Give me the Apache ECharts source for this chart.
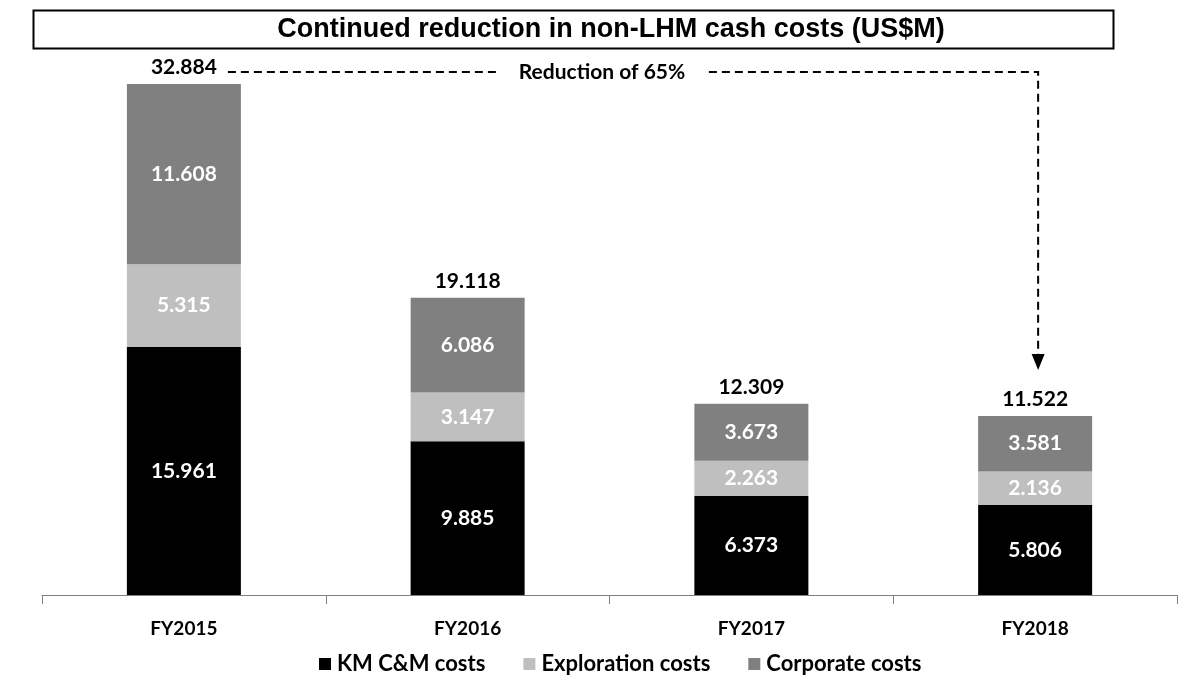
<!DOCTYPE html>
<html><head><meta charset="utf-8">
<script src="https://cdn.jsdelivr.net/npm/echarts@6/dist/echarts.min.js"></script>
<style>html,body{margin:0;padding:0;background:#fff}#c{width:1192px;height:675px}</style>
</head><body><div id="c"></div>
<script>
const categories = ['FY2015', 'FY2016', 'FY2017', 'FY2018'];
const kmCosts = [15.961, 9.885, 6.373, 5.806];
const explorationCosts = [5.315, 3.147, 2.263, 2.136];
const corporateCosts = [11.608, 6.086, 3.673, 3.581];
const totals = [32.884, 19.118, 12.309, 11.522];
const seriesNames = ['KM C&M costs', 'Exploration costs', 'Corporate costs'];
const titleText = 'Continued reduction in non-LHM cash costs (US$M)';
const annotationText = 'Reduction of 65%';

const FONT = 'Lato, "Open Sans", sans-serif';
const chart = echarts.init(document.getElementById('c'), null, {renderer: 'canvas'});
const inLabel = {show: true, position: 'inside', color: '#fff', fontFamily: FONT, fontWeight: 'bold', fontSize: 21,
  formatter: p => p.value.toFixed(3)};
const option = {
  animation: false,
  grid: {left: 42, right: 15, top: 51, bottom: 80, containLabel: false},
  legend: {
    data: seriesNames, top: 648, left: 314, itemWidth: 12, itemHeight: 12, itemGap: 38,
    icon: 'rect',
    textStyle: {fontFamily: FONT, fontWeight: 'bold', fontSize: 22, color: '#000', padding: [0, 0, 0, 1]}
  },
  xAxis: {
    type: 'category', data: categories,
    axisLine: {lineStyle: {color: '#7f7f7f', width: 1}},
    axisTick: {show: true, length: 9, lineStyle: {color: '#7f7f7f'}, alignWithLabel: false},
    axisLabel: {fontFamily: FONT, fontWeight: 'bold', fontSize: 19, color: '#000', margin: 24}
  },
  yAxis: {type: 'value', min: 0, max: 35, show: false, splitLine: {show: false}},
  series: [
    {name: seriesNames[0], type: 'bar', stack: 't', data: kmCosts, barWidth: 114, itemStyle: {color: '#000000'}, label: inLabel},
    {name: seriesNames[1], type: 'bar', stack: 't', data: explorationCosts, barWidth: 114, itemStyle: {color: '#bfbfbf'}, label: inLabel},
    {name: seriesNames[2], type: 'bar', stack: 't', data: corporateCosts, barWidth: 114, itemStyle: {color: '#808080'}, label: inLabel},
    {name: 'Total', type: 'bar', stack: 't', data: totals.map(() => 0), barWidth: 114, itemStyle: {color: 'transparent'},
      label: {show: true, position: 'top', distance: 6, color: '#000', fontFamily: FONT, fontWeight: 'bold', fontSize: 21,
        formatter: p => totals[p.dataIndex].toFixed(3)}}
  ]
};
chart.setOption(option);

// Title box and annotation arrow, positioned from axis pixels
const p0 = chart.convertToPixel({xAxisIndex: 0, yAxisIndex: 0}, [0, totals[0]]);
const p3 = chart.convertToPixel({xAxisIndex: 0, yAxisIndex: 0}, [3, totals[3]]);
const lineY = p0[1] - 12;
const xStart = p0[0] + 44;
const xEnd = p3[0] + 3;
const tipY = p3[1] - 46;
const textX = (xStart + xEnd) / 2 - 31;
chart.setOption({
  graphic: [
    {type: 'rect', shape: {x: 33.5, y: 10.5, width: 1080, height: 38}, style: {fill: '#fff', stroke: '#000', lineWidth: 2}, z: 10},
    {type: 'text', x: 611, y: 30, style: {text: titleText, font: 'bold 27px "Liberation Sans", Arial, sans-serif', fill: '#000', align: 'center', verticalAlign: 'middle'}, z: 11},
    {type: 'polyline', shape: {points: [[xStart, lineY], [xEnd, lineY], [xEnd, tipY - 15]]},
      style: {stroke: '#000', lineWidth: 2, lineDash: [8, 5], fill: null}, z: 10},
    {type: 'polygon', shape: {points: [[xEnd - 6.5, tipY - 16], [xEnd + 6.5, tipY - 16], [xEnd, tipY]]}, style: {fill: '#000'}, z: 10},
    {type: 'text', x: textX, y: lineY, style: {text: annotationText, font: 'bold 21px ' + FONT, fill: '#000', align: 'center', verticalAlign: 'middle',
      backgroundColor: '#fff', padding: [2, 19]}, z: 11}
  ]
});
</script></body></html>
